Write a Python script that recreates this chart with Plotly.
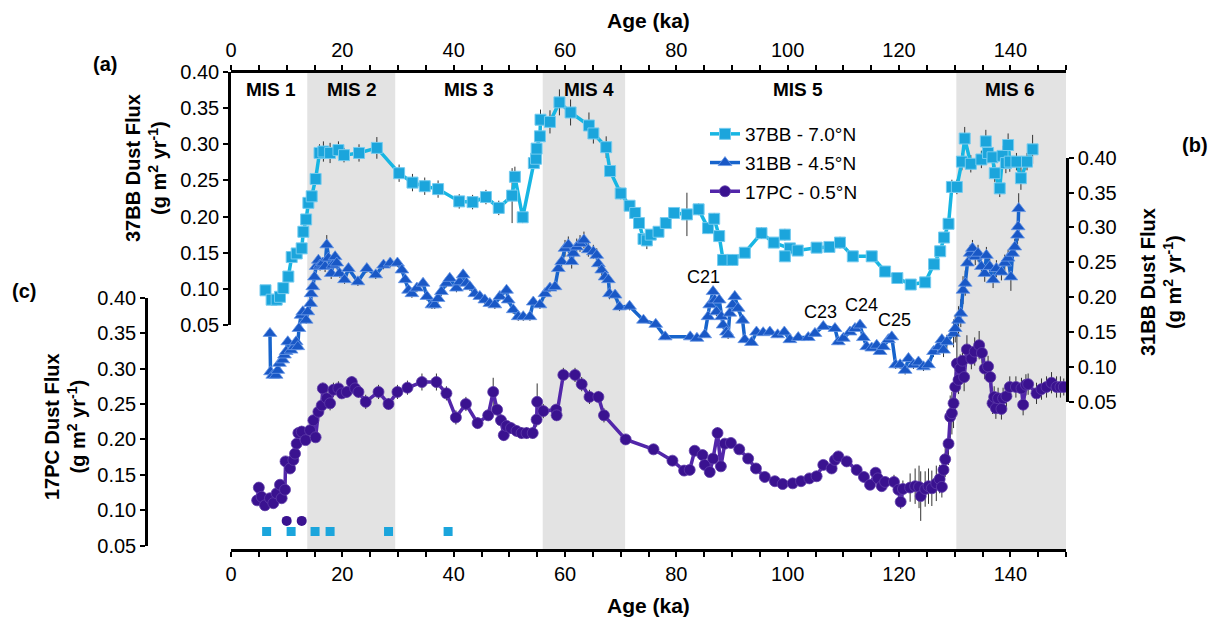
import plotly.graph_objects as go

# ---------------- data ----------------
# 37BB (7.0°N) dust flux, g m-2 yr-1
bb37_age = [6.2, 7.3, 8.2, 8.8, 9.4, 10.3, 10.9, 11.8, 12.7, 13.0, 13.5, 13.9, 14.5, 15.2,
            15.9, 16.6, 17.8, 19.3, 20.3, 23.0, 26.2, 30.2, 32.6, 34.8, 37.2, 41.0, 43.4,
            45.8, 48.1, 50.5, 51.0, 52.4, 54.4, 54.8, 54.9, 55.5, 55.6, 57.3, 59.0, 61.0,
            64.3, 65.1, 67.4, 68.1, 70.0, 71.6, 72.6, 73.3, 74.1, 74.7, 75.4, 76.8, 78.1,
            79.6, 81.9, 84.0, 85.7, 86.8, 87.7, 88.4, 90.1, 92.3, 95.3, 97.5, 100.4, 101.8,
            105.2, 107.5, 109.4, 111.7, 115.1, 117.5, 119.7, 122.1, 124.7, 126.3, 127.4,
            128.1, 128.9, 129.5, 130.4, 131.3, 131.8, 132.9, 134.8, 135.6, 136.0, 136.8,
            137.2, 138.1, 138.6, 139.2, 139.6, 139.9, 141.1, 141.9, 143.0, 144.0]
bb37_flux = [0.098, 0.085, 0.085, 0.089, 0.101, 0.117, 0.144, 0.149, 0.156, 0.179, 0.196,
             0.219, 0.228, 0.252, 0.288, 0.290, 0.288, 0.292, 0.285, 0.288, 0.295, 0.260,
             0.247, 0.242, 0.238, 0.221, 0.220, 0.227, 0.212, 0.229, 0.255, 0.199, 0.274,
             0.280, 0.294, 0.311, 0.334, 0.331, 0.358, 0.344, 0.326, 0.315, 0.296, 0.263,
             0.232, 0.215, 0.205, 0.191, 0.169, 0.167, 0.175, 0.179, 0.191, 0.205, 0.203,
             0.210, 0.184, 0.197, 0.173, 0.140, 0.140, 0.150, 0.177, 0.164, 0.156, 0.153,
             0.157, 0.158, 0.164, 0.145, 0.145, 0.124, 0.115, 0.106, 0.109, 0.134, 0.152,
             0.171, 0.190, 0.241, 0.241, 0.276, 0.308, 0.273, 0.279, 0.304, 0.288, 0.282,
             0.260, 0.239, 0.284, 0.274, 0.299, 0.276, 0.276, 0.253, 0.276, 0.293]
bb37_err = [0.004, 0.004, 0.004, 0.004, 0.004, 0.005, 0.005, 0.005, 0.005, 0.005, 0.005,
            0.005, 0.005, 0.006, 0.012, 0.014, 0.014, 0.012, 0.010, 0.012, 0.015, 0.012,
            0.012, 0.012, 0.012, 0.010, 0.010, 0.010, 0.010, 0.038, 0.014, 0.008, 0.008,
            0.008, 0.008, 0.008, 0.014, 0.016, 0.018, 0.018, 0.018, 0.014, 0.015, 0.008,
            0.008, 0.006, 0.006, 0.006, 0.006, 0.012, 0.006, 0.006, 0.006, 0.006, 0.030,
            0.008, 0.008, 0.008, 0.008, 0.008, 0.008, 0.006, 0.008, 0.006, 0.006, 0.006,
            0.006, 0.006, 0.008, 0.006, 0.006, 0.006, 0.006, 0.006, 0.006, 0.006, 0.006,
            0.006, 0.006, 0.010, 0.010, 0.012, 0.016, 0.012, 0.012, 0.016, 0.014, 0.014,
            0.012, 0.012, 0.014, 0.014, 0.016, 0.014, 0.012, 0.016, 0.012, 0.020]
# replicate 37BB samples not joined to the record
bb37_rep_age = [99.5, 99.5]
bb37_rep_flux = [0.175, 0.145]
bb37_rep_err = [0.008, 0.006]

# 31BB (4.5°N) dust flux
bb31_age = [7.0, 7.1, 7.5, 8.1, 8.4, 8.7, 9.3, 9.6, 9.9, 10.2, 10.8, 11.4, 11.7, 12.0, 12.2,
            12.6, 12.9, 13.5, 13.8, 14.3, 14.4, 14.7, 15.0, 15.3, 15.7, 16.0, 16.5, 16.9,
            17.2, 17.5, 18.0, 18.3, 18.7, 19.0, 19.5, 20.4, 21.1, 22.8, 24.4, 26.0, 27.4,
            28.6, 29.9, 30.7, 31.3, 31.9, 32.5, 33.4, 34.5, 35.2, 36.1, 36.6, 37.2, 37.8,
            38.7, 39.3, 40.5, 41.1, 41.7, 42.3, 42.9, 43.8, 44.7, 45.6, 46.5, 47.4, 48.3,
            49.5, 49.8, 50.7, 51.6, 52.5, 53.7, 54.3, 55.5, 56.4, 57.3, 58.2, 58.8, 59.4,
            60.0, 60.6, 61.2, 61.5, 62.1, 62.7, 63.4, 64.2, 65.1, 65.7, 66.0, 66.6, 67.2,
            67.8, 68.0, 69.0, 69.8, 71.6, 74.1, 76.3, 78.0, 82.5, 83.7, 85.1, 85.7, 86.0,
            86.6, 86.9, 87.2, 87.7, 88.1, 88.4, 89.0, 89.3, 89.6, 90.1, 90.5, 91.1, 91.9,
            92.3, 93.5, 94.4, 95.6, 96.8, 98.2, 99.4, 100.4, 101.9, 103.7, 104.9, 106.4,
            108.5, 109.1, 110.0, 111.2, 112.1, 113.0, 113.6, 114.2, 115.1, 116.0, 116.6,
            117.2, 118.1, 118.7, 119.4, 120.2, 121.1, 121.7, 122.6, 123.5, 124.4, 125.3,
            126.2, 127.1, 127.7, 128.0, 128.6, 129.8, 130.1, 130.7, 131.1, 131.5, 131.9,
            132.3, 132.8, 133.2, 133.7, 134.2, 134.8, 135.4, 135.7, 136.3, 136.9, 137.5,
            138.4, 139.0, 139.6, 140.1, 140.4, 140.8, 141.3, 141.4, 141.5]
bb31_flux = [0.148, 0.093, 0.088, 0.088, 0.095, 0.105, 0.110, 0.117, 0.122, 0.136, 0.124,
             0.129, 0.136, 0.129, 0.155, 0.174, 0.179, 0.167, 0.179, 0.191, 0.205, 0.215,
             0.229, 0.244, 0.253, 0.246, 0.249, 0.244, 0.275, 0.256, 0.234, 0.246, 0.258,
             0.249, 0.234, 0.225, 0.241, 0.222, 0.241, 0.232, 0.246, 0.249, 0.249, 0.239,
             0.225, 0.210, 0.205, 0.213, 0.220, 0.201, 0.189, 0.189, 0.198, 0.208, 0.220,
             0.227, 0.213, 0.222, 0.232, 0.220, 0.215, 0.205, 0.201, 0.196, 0.191, 0.189,
             0.201, 0.210, 0.196, 0.182, 0.172, 0.172, 0.172, 0.193, 0.189, 0.205, 0.213,
             0.215, 0.241, 0.251, 0.270, 0.275, 0.251, 0.263, 0.272, 0.277, 0.282, 0.268,
             0.265, 0.260, 0.248, 0.239, 0.229, 0.225, 0.205, 0.203, 0.186, 0.187, 0.167,
             0.161, 0.143, 0.143, 0.141, 0.146, 0.172, 0.189, 0.208, 0.196, 0.179, 0.196,
             0.172, 0.160, 0.150, 0.146, 0.177, 0.189, 0.201, 0.184, 0.167, 0.139, 0.135,
             0.150, 0.149, 0.150, 0.146, 0.150, 0.139, 0.142, 0.142, 0.148, 0.158, 0.155,
             0.136, 0.141, 0.150, 0.155, 0.160, 0.142, 0.129, 0.127, 0.131, 0.122, 0.129,
             0.139, 0.143, 0.103, 0.103, 0.095, 0.112, 0.103, 0.107, 0.100, 0.103, 0.122,
             0.129, 0.139, 0.124, 0.136, 0.148, 0.155, 0.167, 0.177, 0.210, 0.220, 0.249,
             0.263, 0.270, 0.258, 0.263, 0.244, 0.234, 0.260, 0.244, 0.225, 0.241, 0.236,
             0.249, 0.256, 0.229, 0.263, 0.272, 0.289, 0.301, 0.327]
bb31_err = [0.004, 0.004, 0.004, 0.004, 0.004, 0.004, 0.004, 0.004, 0.004, 0.004, 0.004,
            0.004, 0.004, 0.004, 0.005, 0.005, 0.005, 0.005, 0.005, 0.005, 0.006, 0.006,
            0.006, 0.008, 0.008, 0.008, 0.008, 0.008, 0.014, 0.008, 0.008, 0.008, 0.008,
            0.008, 0.006, 0.006, 0.006, 0.006, 0.006, 0.006, 0.006, 0.006, 0.006, 0.006,
            0.006, 0.006, 0.006, 0.006, 0.006, 0.006, 0.006, 0.006, 0.006, 0.006, 0.006,
            0.006, 0.006, 0.008, 0.008, 0.006, 0.006, 0.006, 0.006, 0.006, 0.006, 0.006,
            0.006, 0.006, 0.006, 0.006, 0.006, 0.006, 0.006, 0.006, 0.006, 0.006, 0.006,
            0.006, 0.008, 0.008, 0.012, 0.012, 0.010, 0.010, 0.012, 0.012, 0.012, 0.010,
            0.010, 0.010, 0.010, 0.010, 0.008, 0.008, 0.008, 0.006, 0.006, 0.006, 0.004,
            0.004, 0.004, 0.004, 0.004, 0.004, 0.004, 0.006, 0.008, 0.006, 0.006, 0.008,
            0.006, 0.006, 0.006, 0.006, 0.006, 0.006, 0.008, 0.006, 0.006, 0.004, 0.004,
            0.004, 0.004, 0.004, 0.004, 0.004, 0.004, 0.004, 0.004, 0.004, 0.004, 0.004,
            0.004, 0.004, 0.004, 0.004, 0.004, 0.004, 0.004, 0.004, 0.004, 0.004, 0.004,
            0.004, 0.004, 0.006, 0.006, 0.006, 0.006, 0.006, 0.006, 0.006, 0.006, 0.008,
            0.008, 0.008, 0.010, 0.010, 0.020, 0.020, 0.020, 0.020, 0.020, 0.018, 0.015,
            0.012, 0.012, 0.012, 0.012, 0.012, 0.012, 0.012, 0.012, 0.012, 0.012, 0.012,
            0.012, 0.012, 0.020, 0.012, 0.012, 0.015, 0.020, 0.022]

# 17PC (0.5°N) dust flux
pc17_age = [4.7, 5.0, 5.5, 6.1, 7.0, 7.6, 8.2, 8.8, 9.1, 9.7, 9.8, 10.6, 11.2, 11.5, 11.8,
            12.1, 12.7, 13.4, 14.2, 14.8, 15.2, 15.7, 16.3, 16.5, 17.2, 17.8, 18.4, 19.3,
            19.9, 20.8, 21.7, 22.3, 22.9, 24.2, 26.5, 28.3, 29.9, 31.7, 34.3, 36.9, 38.7,
            40.4, 42.2, 44.3, 46.2, 47.1, 47.8, 48.5, 49.0, 49.5, 50.3, 51.3, 52.2, 53.1,
            54.2, 54.9, 55.0, 56.1, 58.4, 58.5, 59.7, 61.8, 63.0, 64.4, 66.0, 67.0, 70.9,
            75.9, 79.3, 81.4, 82.4, 83.3, 84.7, 85.1, 86.0, 86.6, 87.4, 88.0, 88.7, 89.8,
            91.3, 92.9, 94.3, 95.9, 97.7, 99.1, 100.9, 102.4, 103.9, 105.2, 106.4, 107.9,
            108.5, 109.1, 110.6, 112.4, 113.7, 114.8, 115.8, 116.2, 116.9, 117.5, 119.1,
            119.9, 120.3, 120.7, 122.0, 122.9, 123.6, 123.9, 124.7, 125.3, 125.9, 126.7,
            127.3, 127.7, 128.0, 128.3, 128.9, 129.2, 129.5, 129.8, 130.1, 130.4, 130.7,
            131.0, 131.4, 131.7, 132.2, 133.0, 133.6, 134.4, 134.9, 135.4, 136.0, 136.4,
            136.8, 137.1, 137.4, 137.8, 138.4, 138.7, 139.3, 139.9, 141.0, 142.0, 142.3,
            142.8, 143.2, 144.7, 145.6, 146.5, 147.4, 148.3, 149.0, 149.6]
pc17_flux = [0.114, 0.132, 0.119, 0.107, 0.117, 0.110, 0.124, 0.136, 0.117, 0.129, 0.169,
             0.159, 0.171, 0.180, 0.194, 0.209, 0.211, 0.199, 0.213, 0.227, 0.203, 0.239,
             0.248, 0.272, 0.258, 0.251, 0.270, 0.272, 0.265, 0.267, 0.281, 0.272, 0.267,
             0.253, 0.267, 0.250, 0.267, 0.273, 0.281, 0.281, 0.265, 0.231, 0.250, 0.223,
             0.234, 0.267, 0.242, 0.227, 0.206, 0.219, 0.216, 0.212, 0.209, 0.209, 0.209,
             0.228, 0.253, 0.240, 0.242, 0.234, 0.291, 0.291, 0.278, 0.260, 0.260, 0.234,
             0.200, 0.186, 0.170, 0.156, 0.157, 0.184, 0.178, 0.164, 0.154, 0.173, 0.209,
             0.162, 0.194, 0.195, 0.186, 0.173, 0.159, 0.147, 0.141, 0.137, 0.138, 0.141,
             0.145, 0.148, 0.164, 0.159, 0.171, 0.176, 0.169, 0.157, 0.147, 0.136, 0.153,
             0.145, 0.134, 0.140, 0.140, 0.129, 0.112, 0.130, 0.132, 0.134, 0.133, 0.120,
             0.130, 0.134, 0.131, 0.138, 0.144, 0.133, 0.157, 0.172, 0.194, 0.232, 0.237,
             0.251, 0.274, 0.307, 0.284, 0.300, 0.311, 0.288, 0.327, 0.314, 0.324, 0.333,
             0.322, 0.300, 0.303, 0.288, 0.251, 0.260, 0.244, 0.258, 0.243, 0.258, 0.261,
             0.274, 0.274, 0.272, 0.249, 0.277, 0.278, 0.265, 0.271, 0.274, 0.280, 0.274,
             0.274, 0.274]
pc17_err = [0.006, 0.005, 0.005, 0.008, 0.005, 0.005, 0.005, 0.005, 0.005, 0.005, 0.006,
            0.006, 0.006, 0.006, 0.006, 0.006, 0.008, 0.006, 0.006, 0.006, 0.006, 0.006,
            0.008, 0.008, 0.010, 0.010, 0.010, 0.010, 0.008, 0.008, 0.008, 0.008, 0.008,
            0.010, 0.010, 0.008, 0.010, 0.010, 0.012, 0.012, 0.010, 0.010, 0.010, 0.008,
            0.008, 0.020, 0.008, 0.008, 0.008, 0.008, 0.008, 0.008, 0.008, 0.008, 0.008,
            0.010, 0.026, 0.010, 0.008, 0.008, 0.010, 0.010, 0.010, 0.010, 0.008, 0.010,
            0.006, 0.004, 0.004, 0.004, 0.004, 0.004, 0.004, 0.004, 0.004, 0.004, 0.008,
            0.004, 0.004, 0.006, 0.004, 0.004, 0.004, 0.004, 0.004, 0.004, 0.004, 0.004,
            0.004, 0.004, 0.004, 0.004, 0.006, 0.006, 0.004, 0.004, 0.004, 0.006, 0.006,
            0.006, 0.006, 0.006, 0.010, 0.010, 0.010, 0.012, 0.020, 0.025, 0.030, 0.035,
            0.025, 0.025, 0.025, 0.025, 0.020, 0.015, 0.020, 0.025, 0.030, 0.030, 0.030,
            0.035, 0.040, 0.040, 0.020, 0.020, 0.020, 0.020, 0.020, 0.015, 0.020, 0.020,
            0.015, 0.015, 0.015, 0.015, 0.015, 0.015, 0.015, 0.015, 0.015, 0.015, 0.015,
            0.015, 0.015, 0.015, 0.015, 0.015, 0.015, 0.015, 0.015, 0.015, 0.015, 0.015,
            0.015, 0.012]

# radiocarbon age-control points (drawn as rows beneath the records)
dates_37bb_age = [6.4, 10.8, 15.1, 17.8, 28.3, 39.0]
dates_17pc_age = [10.0, 12.7]
ROW_37BB = 0.070
ROW_17PC = 0.085

# marine isotope stages
mis_names = ["MIS 1", "MIS 2", "MIS 3", "MIS 4", "MIS 5", "MIS 6"]
mis_label_age = [7.1, 21.7, 42.8, 64.4, 101.8, 140.0]
glacial_start = [13.7, 56.0, 130.3]
glacial_end = [29.5, 70.8, 150.0]

# cold events labelled on 31BB
event_names = ["C21", "C23", "C24", "C25"]

# ---------------- layout geometry ----------------
W, H = 1218, 617
ML, MR, MT, MB = 40, 40, 71, 67
PW, PH = W - ML - MR, H - MT - MB


def fx(px):
    return (px - ML) / PW


def fy(py):
    return (H - MB - py) / PH


X_DOM = [fx(231), fx(1066)]

C37 = "#1BA5DC"
C37_LINE = "#17B6E3"
C31 = "#1958C6"
C31_LINE = "#1764CC"
C17 = "#3A1290"
C17_LINE = "#5226AA"
ERR = "#333333"
FONT = "Liberation Sans, Arial, Helvetica, sans-serif"

fig = go.Figure()

fig.add_trace(go.Scatter(
    x=bb37_age, y=bb37_flux, name="37BB - 7.0°N", mode="lines+markers",
    xaxis="x", yaxis="y", legendgroup="a",
    line=dict(color=C37_LINE, width=3.5),
    marker=dict(symbol="square", size=11, color=C37, line=dict(color="#74CBEF", width=1)),
    error_y=dict(type="data", array=bb37_err, color=ERR, thickness=1, width=0),
))
fig.add_trace(go.Scatter(
    x=bb37_rep_age, y=bb37_rep_flux, mode="markers", showlegend=False,
    xaxis="x", yaxis="y",
    marker=dict(symbol="square", size=11, color=C37, line=dict(color="#74CBEF", width=1)),
    error_y=dict(type="data", array=bb37_rep_err, color=ERR, thickness=1, width=0),
))
fig.add_trace(go.Scatter(
    x=bb31_age, y=bb31_flux, name="31BB - 4.5°N", mode="lines+markers",
    xaxis="x", yaxis="y2", legendgroup="b",
    line=dict(color=C31_LINE, width=3.5),
    marker=dict(symbol="triangle-up", size=12, color=C31, line=dict(color="#6A98E6", width=0.8)),
    error_y=dict(type="data", array=bb31_err, color=ERR, thickness=1, width=0),
))
fig.add_trace(go.Scatter(
    x=pc17_age, y=pc17_flux, name="17PC - 0.5°N", mode="lines+markers",
    xaxis="x", yaxis="y3", legendgroup="c",
    line=dict(color=C17_LINE, width=3.5),
    marker=dict(symbol="circle", size=11, color=C17, line=dict(color="#5E3CA8", width=0.8)),
    error_y=dict(type="data", array=pc17_err, color=ERR, thickness=1, width=0),
))
fig.add_trace(go.Scatter(
    x=dates_37bb_age, y=[ROW_37BB] * len(dates_37bb_age), mode="markers", showlegend=False,
    xaxis="x", yaxis="y3", marker=dict(symbol="square", size=9, color=C37),
))
fig.add_trace(go.Scatter(
    x=dates_17pc_age, y=[ROW_17PC] * len(dates_17pc_age), mode="markers", showlegend=False,
    xaxis="x", yaxis="y3", marker=dict(symbol="circle", size=10, color=C17),
))
# carrier for the top age axis
fig.add_trace(go.Scatter(
    x=[0, 150], y=[None, None], mode="lines", showlegend=False, hoverinfo="skip",
    xaxis="x2", yaxis="y",
))

# glacial stage shading
shapes = []
for s, e in zip(glacial_start, glacial_end):
    shapes.append(dict(type="rect", xref="x", yref="paper", x0=s, x1=e, y0=0, y1=1,
                       fillcolor="#E3E3E3", line=dict(width=0), layer="below"))

annotations = []
for name, age in zip(mis_names, mis_label_age):
    annotations.append(dict(x=age, y=fy(89), xref="x", yref="paper", text=f"<b>{name}</b>",
                            showarrow=False, font=dict(size=19), xanchor="center", yanchor="middle"))

event_pos = [(703, 277), (820, 312), (861, 305), (894, 320)]
for name, (px, py) in zip(event_names, event_pos):
    annotations.append(dict(x=fx(px), y=fy(py), xref="paper", yref="paper", text=name,
                            showarrow=False, font=dict(size=18), xanchor="center", yanchor="middle"))

unit = "(g m<sup>2</sup> yr<sup>-1</sup>)"
titles = [
    ("<b>37BB Dust Flux<br>" + unit + "</b>", 146, 168),
    ("<b>17PC Dust Flux<br>" + unit + "</b>", 65, 427),
    ("<b>31BB Dust Flux<br>" + unit + "</b>", 1161, 282),
]
for txt, px, py in titles:
    annotations.append(dict(x=fx(px), y=fy(py), xref="paper", yref="paper", text=txt,
                            textangle=-90, showarrow=False, font=dict(size=20),
                            xanchor="center", yanchor="middle"))

for txt, px, py in [("(a)", 105, 64), ("(b)", 1195, 145), ("(c)", 24, 291)]:
    annotations.append(dict(x=fx(px), y=fy(py), xref="paper", yref="paper", text=f"<b>{txt}</b>",
                            showarrow=False, font=dict(size=20), xanchor="center", yanchor="middle"))

for py in (21, 605):
    annotations.append(dict(x=fx(648), y=fy(py), xref="paper", yref="paper", text="<b>Age (ka)</b>",
                            showarrow=False, font=dict(size=21), xanchor="center", yanchor="middle"))

axis_common = dict(showline=True, linecolor="black", linewidth=2.5, ticks="outside",
                   ticklen=5, tickwidth=2, tickcolor="black", showgrid=False, zeroline=False,
                   automargin=False, tickfont=dict(size=20))

x_common = dict(axis_common, range=[0, 150], tickvals=[0, 20, 40, 60, 80, 100, 120, 140],
                minor=dict(dtick=5, tick0=0, ticks="outside", ticklen=5, tickwidth=2,
                           tickcolor="black", showgrid=False))

y_common = dict(axis_common, range=[0.05, 0.40], dtick=0.05, tick0=0.05, tickformat=".2f")

fig.update_layout(
    width=W, height=H,
    margin=dict(l=ML, r=MR, t=MT, b=MB),
    plot_bgcolor="rgba(0,0,0,0)", paper_bgcolor="white",
    font=dict(family=FONT, size=20, color="black"),
    xaxis=dict(x_common, domain=X_DOM, anchor="free", position=0, side="bottom"),
    xaxis2=dict(x_common, domain=X_DOM, matches="x", overlaying="x", anchor="free",
                position=1, side="top"),
    yaxis=dict(y_common, domain=[fy(325), fy(72)], anchor="x", side="left"),
    yaxis2=dict(y_common, domain=[fy(401.7), fy(157.7)], anchor="x", side="right"),
    yaxis3=dict(y_common, domain=[fy(545.7), fy(297.7)], anchor="free", position=fx(146),
                side="left"),
    shapes=shapes,
    annotations=annotations,
    legend=dict(x=fx(705), y=fy(115), xanchor="left", yanchor="top", bgcolor="rgba(0,0,0,0)",
                font=dict(size=19), tracegroupgap=1, traceorder="grouped"),
)

fig.write_html("out.html")
